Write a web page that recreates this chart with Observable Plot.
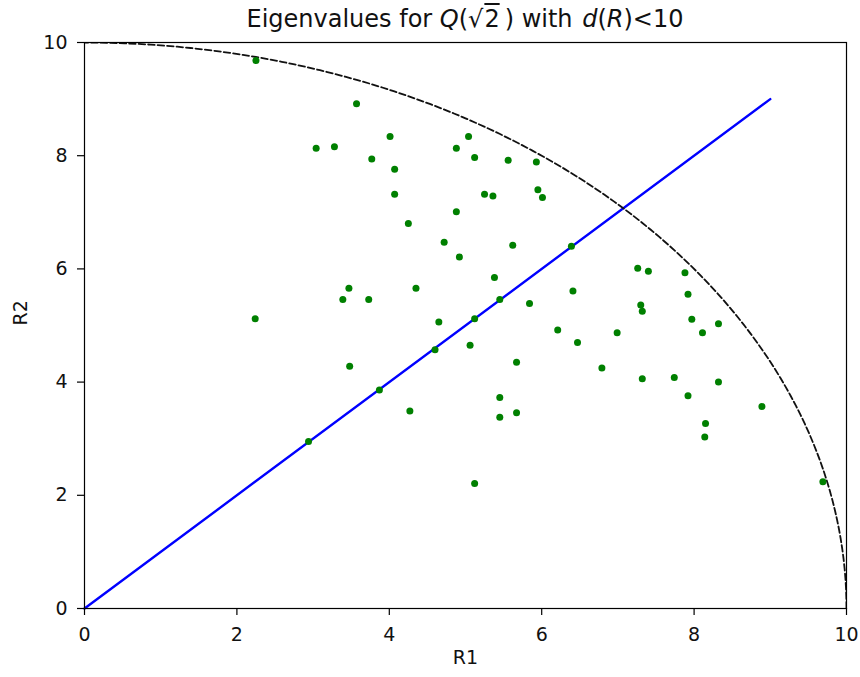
<!DOCTYPE html>
<html>
<head>
<meta charset="utf-8">
<script src="https://cdn.jsdelivr.net/npm/d3@7"></script>
<script src="https://cdn.jsdelivr.net/npm/@observablehq/plot@0.6"></script>
<style>
  body { margin: 0; background: white; font-family: "DejaVu Sans", sans-serif; }
  #title { height: 36px; box-sizing: border-box; padding-top: 4px; line-height: 30px;
           font-size: 24px; margin-left: 84px; width: 762px; text-align: center; color: #111; white-space: nowrap; }
  #title i { font-style: oblique; }
  .ov { text-decoration: overline; padding-left: 1px; margin-right: 5px; }
  .m { margin-left: 2px; }
</style>
</head>
<body>
<div id="title">Eigenvalues for <i>Q</i>(√<span class="ov">2</span>) with <i class="m">d</i>(<i>R</i>)&lt;10</div>
<div id="chart"></div>
<script>
// R1 and R2 coordinates of the eigenvalues
const r1 = [2.25, 3.57, 3.04, 3.28, 4.01, 3.77, 4.07, 4.07, 4.88, 5.04, 5.12, 5.25, 5.36, 4.88, 4.25,
            5.56, 5.93, 5.95, 6.01, 5.62, 4.72, 4.92, 6.39, 5.38, 7.26, 7.40, 7.88, 6.41, 7.92, 3.47,
            3.39, 3.73, 4.35, 2.24, 4.65, 5.12, 4.60, 5.06, 3.48, 3.87, 4.27, 5.45, 5.45, 5.45, 5.84,
            7.30, 7.32, 7.97, 8.32, 8.11, 6.21, 6.47, 6.99, 5.67, 6.79, 7.32, 7.74, 8.32, 7.92, 8.89,
            5.67, 8.15, 8.14, 9.69, 2.94, 5.12];
const r2 = [9.68, 8.92, 8.13, 8.16, 8.34, 7.94, 7.76, 7.32, 8.13, 8.34, 7.97, 7.32, 7.29, 7.01, 6.80,
            7.92, 7.89, 7.40, 7.26, 6.42, 6.47, 6.21, 6.40, 5.85, 6.01, 5.96, 5.93, 5.61, 5.55, 5.66,
            5.46, 5.46, 5.66, 5.12, 5.06, 5.12, 4.57, 4.65, 4.28, 3.86, 3.49, 3.73, 3.38, 5.46, 5.39,
            5.36, 5.25, 5.11, 5.03, 4.87, 4.92, 4.70, 4.87, 4.35, 4.25, 4.06, 4.08, 4.00, 3.76, 3.57,
            3.46, 3.27, 3.03, 2.24, 2.95, 2.21];
const xTicks = [0, 2, 4, 6, 8, 10];
const yTicks = [0, 2, 4, 6, 8, 10];
const diagonalEnds = [0, 9];   // blue line R1 = R2
const radius = 10;             // bound d(R) < 10

const points = r1.map((x, i) => ({x, y: r2[i]}));
const diagonal = diagonalEnds.map(v => ({x: v, y: v}));
const arc = d3.range(0, 91).map(deg => {
  const t = deg * Math.PI / 180;
  return {x: radius * Math.cos(t), y: radius * Math.sin(t)};
});

const chart = Plot.plot({
  width: 860,
  height: 641,
  marginTop: 6,
  marginLeft: 84,
  marginRight: 14,
  marginBottom: 69,
  style: {fontFamily: "DejaVu Sans", fontSize: "19px", color: "#111", background: "white", overflow: "visible"},
  x: {domain: [0, 10]},
  y: {domain: [0, 10]},
  marks: [
    Plot.line(diagonal, {x: "x", y: "y", stroke: "#0000ff", strokeWidth: 2.4}),
    Plot.line(arc, {x: "x", y: "y", stroke: "#111", strokeWidth: 1.8, strokeDasharray: "6.5,3", clip: true}),
    Plot.dot(points, {x: "x", y: "y", r: 3.5, fill: "#008000", stroke: "none"}),
    Plot.frame({stroke: "black", strokeWidth: 1.2}),
    Plot.axisX({ticks: xTicks, tickSize: 7, tickPadding: 12, label: null, stroke: "black", strokeWidth: 1.2}),
    Plot.axisY({ticks: yTicks, tickSize: 7, tickPadding: 10, label: null, stroke: "black", strokeWidth: 1.2}),
    Plot.text(["R1"], {frameAnchor: "bottom", dy: 55, text: d => d, fontSize: 19}),
    Plot.text(["R2"], {frameAnchor: "left", dx: -64, rotate: -90, text: d => d, fontSize: 19})
  ]
});
document.getElementById("chart").appendChild(chart);
</script>
</body>
</html>
